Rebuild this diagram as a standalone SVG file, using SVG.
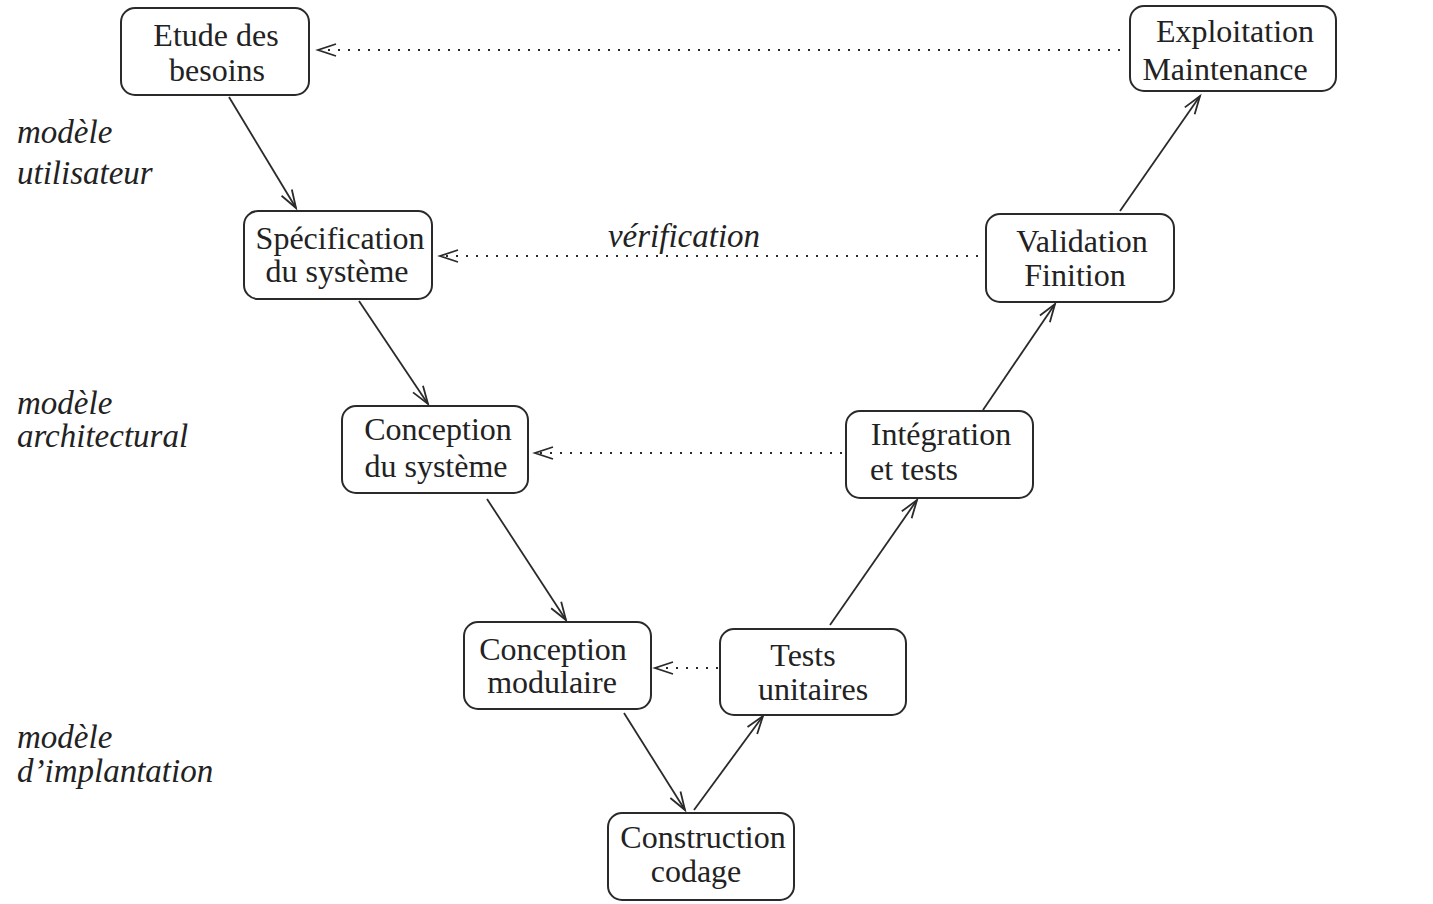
<svg xmlns="http://www.w3.org/2000/svg" width="1433" height="904" viewBox="0 0 1433 904">
<style>
.box{fill:#fff;stroke:#2a2a2a;stroke-width:2}
.t{font-family:"Liberation Serif",serif;font-size:32px;fill:#222;text-anchor:middle}
.i{font-family:"Liberation Serif",serif;font-size:33px;font-style:italic;fill:#222}
.c{stroke:#2a2a2a;stroke-width:1.8;fill:none;marker-end:url(#v)}
.d{stroke:#2a2a2a;stroke-width:2;fill:none;stroke-dasharray:2 8;marker-end:url(#v)}
</style>
<defs>
<marker id="v" markerUnits="userSpaceOnUse" markerWidth="22" markerHeight="16" refX="19" refY="7" orient="auto" viewBox="0 0 22 14">
<path d="M1,1 L19,7 L1,13" fill="none" stroke="#2a2a2a" stroke-width="1.8"/>
</marker>
</defs>
<rect width="1433" height="904" fill="#fff"/>
<g id="labels">
<text class="i" x="17" y="143">modèle</text>
<text class="i" x="17" y="184">utilisateur</text>
<text class="i" x="17" y="414">modèle</text>
<text class="i" x="17" y="447">architectural</text>
<text class="i" x="17" y="748">modèle</text>
<text class="i" x="17" y="782">d’implantation</text>
<text class="i" x="684" y="247" text-anchor="middle">vérification</text>
</g>
<g id="connectors">
<line class="c" x1="229" y1="97" x2="296" y2="208"/>
<line class="c" x1="359" y1="301" x2="428" y2="404"/>
<line class="c" x1="487" y1="499" x2="566" y2="620"/>
<line class="c" x1="624" y1="713" x2="685" y2="810"/>
<line class="c" x1="694" y1="810" x2="763" y2="716"/>
<line class="c" x1="830" y1="625" x2="917" y2="500"/>
<line class="c" x1="983" y1="410" x2="1055" y2="304"/>
<line class="c" x1="1120" y1="211" x2="1200" y2="96"/>
<line class="d" x1="1120" y1="50" x2="318" y2="50"/>
<line class="d" x1="978" y1="256" x2="440" y2="256"/>
<line class="d" x1="842" y1="453" x2="535" y2="453"/>
<line class="d" x1="718" y1="668" x2="655" y2="668"/>
</g>
<g id="n1"><rect class="box" x="121" y="8" width="188" height="87" rx="14"/>
<text class="t" x="216" y="46">Etude des</text><text class="t" x="217" y="81">besoins</text></g>
<g id="n2"><rect class="box" x="1130" y="6" width="206" height="85" rx="14"/>
<text class="t" x="1235" y="42">Exploitation</text><text class="t" x="1225" y="80">Maintenance</text></g>
<g id="n3"><rect class="box" x="244" y="211" width="188" height="88" rx="14"/>
<text class="t" x="340" y="249">Spécification</text><text class="t" x="337" y="282">du système</text></g>
<g id="n4"><rect class="box" x="986" y="214" width="188" height="88" rx="14"/>
<text class="t" x="1082" y="252">Validation</text><text class="t" x="1075" y="286">Finition</text></g>
<g id="n5"><rect class="box" x="342" y="406" width="186" height="87" rx="14"/>
<text class="t" x="438" y="440">Conception</text><text class="t" x="436" y="477">du système</text></g>
<g id="n6"><rect class="box" x="846" y="411" width="187" height="87" rx="14"/>
<text class="t" x="941" y="445">Intégration</text><text class="t" x="914" y="480">et tests</text></g>
<g id="n7"><rect class="box" x="464" y="622" width="187" height="87" rx="14"/>
<text class="t" x="553" y="660">Conception</text><text class="t" x="552" y="693">modulaire</text></g>
<g id="n8"><rect class="box" x="720" y="629" width="186" height="86" rx="14"/>
<text class="t" x="803" y="666">Tests</text><text class="t" x="813" y="700">unitaires</text></g>
<g id="n9"><rect class="box" x="608" y="813" width="186" height="87" rx="14"/>
<text class="t" x="703" y="848">Construction</text><text class="t" x="696" y="882">codage</text></g>
</svg>
